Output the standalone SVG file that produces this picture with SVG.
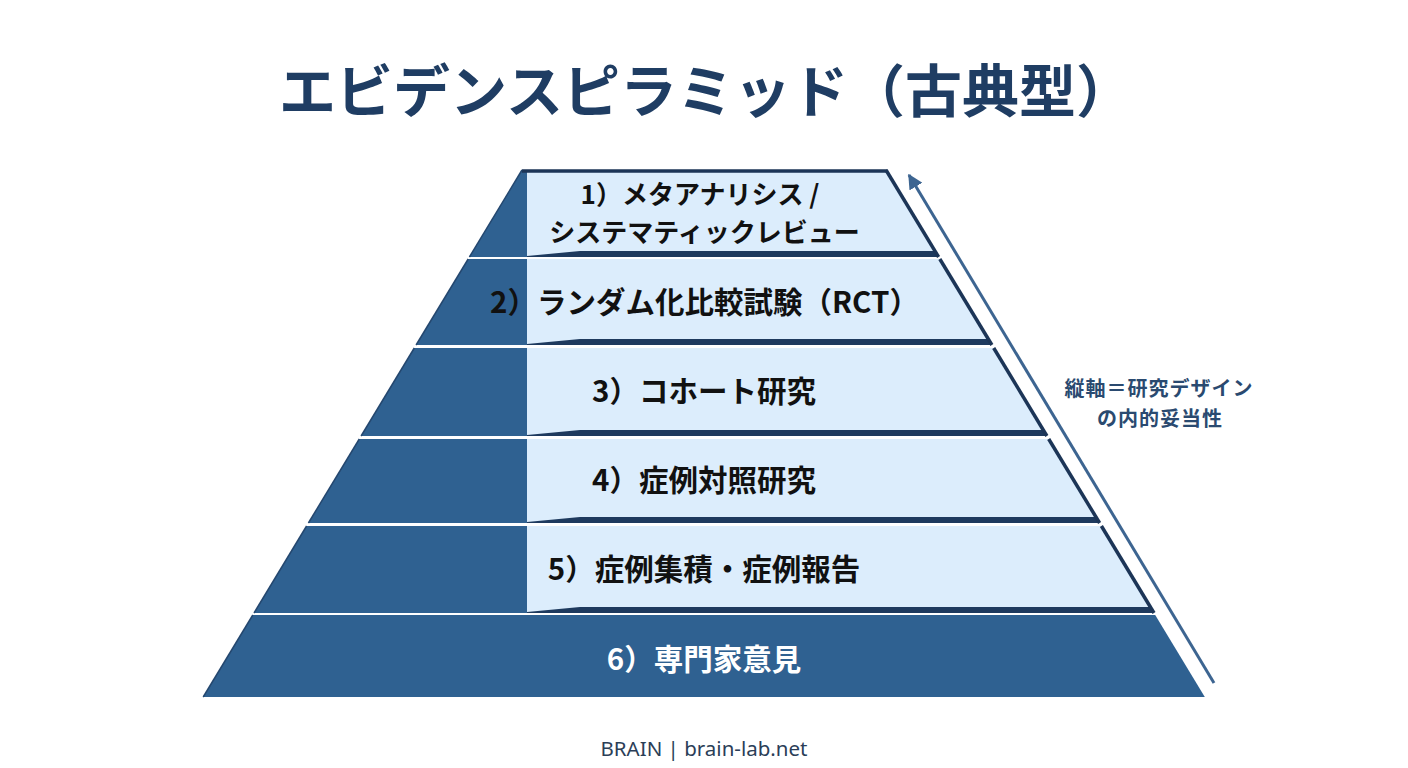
<svg xmlns="http://www.w3.org/2000/svg" width="1408" height="768" viewBox="0 0 1408 768">
<style>
.bg{fill:#ffffff}
.dark{fill:#2f6191}
.light{fill:#dcedfc}
.band{fill:#1e3a5e}
.edge{stroke:#1c3557;stroke-width:3.5;fill:none;stroke-linecap:butt}
.ledge{stroke:#24476f;stroke-width:1.5;fill:none}
.title{font-family:"Noto Sans CJK JP","Noto Sans",sans-serif;font-weight:700;font-size:57px;fill:#1f3d63}
.lbl{font-family:"Noto Sans CJK JP","Noto Sans",sans-serif;font-weight:700;font-size:29.5px;fill:#111111}
.lbl1{font-family:"Noto Sans CJK JP","Noto Sans",sans-serif;font-weight:700;font-size:26px;fill:#111111}
.lblw{font-family:"Noto Sans CJK JP","Noto Sans",sans-serif;font-weight:700;font-size:29.5px;fill:#ffffff}
.side{font-family:"Noto Sans CJK JP","Noto Sans",sans-serif;font-weight:700;font-size:20px;letter-spacing:1px;fill:#2a4a70}
.foot{font-family:"Noto Sans","Noto Sans CJK JP",sans-serif;font-weight:400;font-size:20.5px;fill:#2b3e57}
.arrow{stroke:#3d6591;stroke-width:3;fill:none}
</style>
<defs>
<marker id="ah" viewBox="0 0 10 10" refX="9" refY="5" markerWidth="5" markerHeight="5" orient="auto" markerUnits="strokeWidth">
<path d="M0,0 L10,5 L0,10 z" fill="#3d6591"/>
</marker>
</defs>
<rect class="bg" x="0" y="0" width="1408" height="768"/>
<text class="title" x="706" y="87" text-anchor="middle" dominant-baseline="central">エビデンスピラミッド（古典型）</text>

<g id="tier1">
<polygon class="dark" points="522,170 527,170 527,257 469.4,257"/>
<polygon class="light" points="527,170 886,170 938.6,257 527,257"/>
<polygon class="band" points="527,257 527,256 580,251 935,251 938.6,257"/>
<line class="edge" x1="522" y1="171" x2="887" y2="171"/>
<line class="edge" x1="886" y1="170" x2="938.6" y2="257"/>
<line class="ledge" x1="522" y1="170" x2="469.4" y2="257"/>
<text class="lbl1" x="700" y="192" text-anchor="middle" dominant-baseline="central">1）メタアナリシス /</text>
<text class="lbl1" x="704.5" y="230" text-anchor="middle" dominant-baseline="central">システマティックレビュー</text>
</g>

<g id="tier2">
<polygon class="dark" points="468.2,259 527,259 527,345 416.1,345"/>
<polygon class="light" points="527,259 939.8,259 991.9,345 527,345"/>
<polygon class="band" points="527,345 527,344 580,339 988.3,339 991.9,345"/>
<line class="edge" x1="939.8" y1="259" x2="991.9" y2="345"/>
<line class="ledge" x1="468.2" y1="259" x2="416.1" y2="345"/>
<text class="lbl" x="704.5" y="300" text-anchor="middle" dominant-baseline="central">2）ランダム化比較試験（RCT）</text>
</g>

<g id="tier3">
<polygon class="dark" points="414.3,348 527,348 527,436 361.1,436"/>
<polygon class="light" points="527,348 993.7,348 1046.9,436 527,436"/>
<polygon class="band" points="527,436 527,435 580,430 1043.3,430 1046.9,436"/>
<line class="edge" x1="993.7" y1="348" x2="1046.9" y2="436"/>
<line class="ledge" x1="414.3" y1="348" x2="361.1" y2="436"/>
<text class="lbl" x="704" y="389" text-anchor="middle" dominant-baseline="central">3）コホート研究</text>
</g>

<g id="tier4">
<polygon class="dark" points="359.3,439 527,439 527,523 308.4,523"/>
<polygon class="light" points="527,439 1048.7,439 1099.6,523 527,523"/>
<polygon class="band" points="527,523 527,522 580,517 1096,517 1099.6,523"/>
<line class="edge" x1="1048.7" y1="439" x2="1099.6" y2="523"/>
<line class="ledge" x1="359.3" y1="439" x2="308.4" y2="523"/>
<text class="lbl" x="704" y="478" text-anchor="middle" dominant-baseline="central">4）症例対照研究</text>
</g>

<g id="tier5">
<polygon class="dark" points="306.6,526 527,526 527,613 254,613"/>
<polygon class="light" points="527,526 1101.4,526 1154,613 527,613"/>
<polygon class="band" points="527,613 527,612 580,607 1150.4,607 1154,613"/>
<line class="edge" x1="1101.4" y1="526" x2="1154" y2="613"/>
<line class="ledge" x1="306.6" y1="526" x2="254" y2="613"/>
<text class="lbl" x="704" y="567" text-anchor="middle" dominant-baseline="central">5）症例集積・症例報告</text>
</g>

<g id="tier6">
<polygon class="dark" points="252.8,615 1155.2,615 1204.8,697 203.2,697"/>
<line class="ledge" x1="252.8" y1="615" x2="203.2" y2="697"/>
<text class="lblw" x="704" y="657" text-anchor="middle" dominant-baseline="central">6）専門家意見</text>
</g>

<g id="connectors">
<line class="arrow" x1="1214" y1="683" x2="909" y2="175" marker-end="url(#ah)"/>
</g>

<g id="axis-label">
<text class="side" x="1159" y="387" text-anchor="middle" dominant-baseline="central">縦軸＝研究デザイン</text>
<text class="side" x="1160" y="417" text-anchor="middle" dominant-baseline="central">の内的妥当性</text>
</g>

<g id="footer">
<text class="foot" x="704" y="748" text-anchor="middle" dominant-baseline="central">BRAIN | brain-lab.net</text>
</g>
</svg>
